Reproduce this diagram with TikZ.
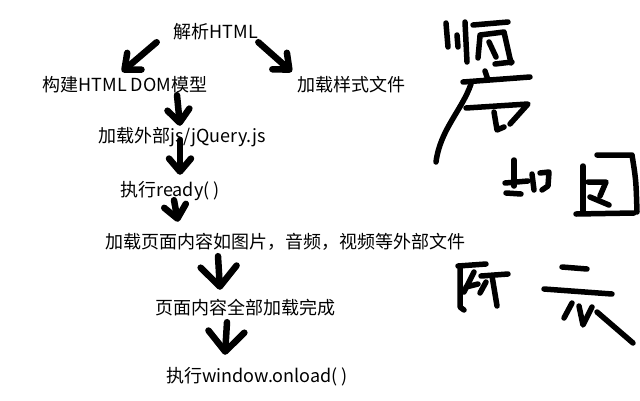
\documentclass[tikz,border=0pt]{standalone}
\usepackage{fontspec}
\setmainfont{Noto Sans CJK SC}
\usetikzlibrary{arrows.meta}

\begin{document}
\begin{tikzpicture}[x=1pt, y=-1pt, font=\fontsize{18}{20}\selectfont,
  lbl/.style={inner sep=1pt, text height=15pt, text depth=3pt},
  arr/.style={line width=6.5pt, line cap=round, -{Straight Barb[round, length=13pt, width=22pt]}},
  bigarr/.style={line width=6.5pt, line cap=round, -{Straight Barb[round, length=20pt, width=36pt]}},
  pen/.style={line width=5.5pt, line cap=round, line join=round}
]
  \useasboundingbox (0,0) rectangle (640,400);

  \node[lbl] (parse) at (216,32) {解析HTML};
  \node[lbl] (dom) at (125,85) {构建HTML DOM模型};
  \node[lbl] (css) at (351,85) {加载样式文件};
  \node[lbl] (jsload) at (182,136) {加载外部js/jQuery.js};
  \node[lbl] (ready) at (170,190) {执行ready( )};
  \node[lbl] (media) at (285,242) {加载页面内容如图片，音频，视频等外部文件};
  \node[lbl] (done) at (245,308) {页面内容全部加载完成};
  \node[lbl] (onload) at (257,376) {执行window.onload( )};

  \draw[arr] ([xshift=-16pt]parse.south west) -- ([shift={(-3pt,3pt)}]dom.north);
  \draw[arr] ([xshift=-1pt]parse.south east) -- ([shift={(-4pt,3pt)}]css.north west);
  \draw[arr] ([xshift=-5pt]dom.south -| jsload) -- ([xshift=-2pt]jsload.north);
  \draw[arr] ([shift={(-2pt,-4pt)}]jsload.center) -- ([shift={(10pt,5pt)}]ready.north);
  \draw[arr] ([xshift=4pt]ready.south) -- ([shift={(8pt,10pt)}]ready.south |- media.north);
  \draw[bigarr] ([shift={(-27pt,-4pt)}]done.north |- media.south) -- ([shift={(-25pt,8pt)}]done.north);
  \draw[bigarr] ([shift={(-18pt,-4pt)}]done.south) -- ([shift={(-32pt,11pt)}]onload.north);

  % handwritten note
  \draw[pen] (446,23) -- (448,47);
  \draw[pen] (457,35) -- (458,47);
  \draw[pen] (465,22) -- (467,62);
  \draw[pen] (473,25) -- (508,22);
  \draw[pen] (480,36) -- (478,58);
  \draw[pen] (480,35) -- (504,32) -- (511,63);
  \draw[pen] (495,64) -- (512,62);
  \draw[pen] (489,42) -- (496,57);

  \draw[pen] (485,71) -- (488,80);
  \draw[pen] (463,82) -- (530,77);
  \draw[pen] (471,84) .. controls (462,110) and (440,130) .. (436,162);
  \draw[pen] (466,108) -- (528,104) -- (510,124);
  \draw[pen] (494,112) -- (497,130) -- (504,127);

  \draw[pen] (514,160) -- (514,186);
  \draw[pen] (505,183) -- (528,181);
  \draw[pen] (506,193) -- (521,194);
  \draw[pen] (532,174) -- (534,190);
  \draw[pen] (540,173) -- (549,172) -- (548,186) -- (542,190);

  \draw[pen] (597,155) -- (632,155) .. controls (636,180) .. (637,212);
  \draw[pen] (583,166) -- (583,212);
  \draw[pen] (576,214) -- (634,213);
  \draw[pen] (588,182) -- (606,182) -- (600,196);
  \draw[pen] (590,197) -- (609,205);

  \draw[pen] (458,266) -- (486,264);
  \draw[pen] (460,266) -- (460,307) -- (464,310);
  \draw[pen] (474,272) -- (464,292);
  \draw[pen] (466,287) -- (478,284);
  \draw[pen] (481,276) -- (508,274);
  \draw[pen] (492,276) -- (497,306);
  \draw[pen] (486,282) -- (480,293);

  \draw[pen] (562,267) -- (587,269);
  \draw[pen] (544,289) -- (612,294);
  \draw[pen] (572,303) -- (564,318);
  \draw[pen] (579,306) -- (583,325) -- (592,307);
  \draw[pen] (597,312) -- (633,343);
\end{tikzpicture}
\end{document}
